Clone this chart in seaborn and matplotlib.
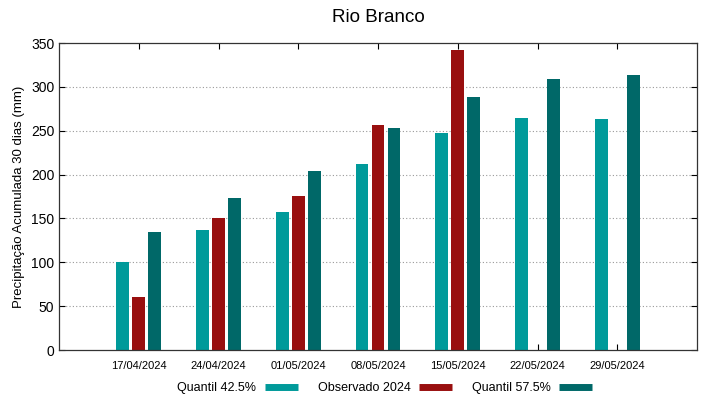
import matplotlib
matplotlib.use("Agg")
import matplotlib.pyplot as plt
import seaborn as sns
import pandas as pd
import numpy as np
from matplotlib.lines import Line2D

dates = ["17/04/2024", "24/04/2024", "01/05/2024", "08/05/2024",
         "15/05/2024", "22/05/2024", "29/05/2024"]
q425 = [100, 137, 157, 212, 247, 264, 263]
obs2024 = [60, 150, 176, 257, 342, np.nan, np.nan]
q575 = [134, 173, 204, 253, 288, 309, 314]
series_names = ["Quantil 42.5%", "Observado 2024", "Quantil 57.5%"]
colors = ["#009a9a", "#990f0f", "#006868"]

df = pd.DataFrame({
    "date": dates * 3,
    "serie": [series_names[0]] * 7 + [series_names[1]] * 7 + [series_names[2]] * 7,
    "valor": q425 + obs2024 + q575,
})

sns.set_theme(style="white")
plt.rcParams["font.family"] = ["Liberation Sans", "DejaVu Sans"]
plt.rcParams["text.color"] = "black"
plt.rcParams["axes.labelcolor"] = "black"
plt.rcParams["xtick.color"] = "black"
plt.rcParams["ytick.color"] = "black"

fig = plt.figure(figsize=(7.19, 3.99), dpi=100)
ax = fig.add_axes([0.0821, 0.1228, 0.8873, 0.7694])

sns.barplot(data=df, x="date", y="valor", hue="serie", order=dates,
            hue_order=series_names, palette=colors, width=0.6, gap=0.2,
            saturation=1, edgecolor="none", ax=ax, legend=False)

ax.set_xlim(-1, 7)
ax.set_ylim(0, 350)
ax.set_yticks(range(0, 351, 50))
ax.set_xticks(range(7))
ax.set_xticklabels(dates, fontsize=8)
ax.tick_params(axis="y", labelsize=10, direction="in", length=4, right=True, left=True, width=0.8)
ax.tick_params(axis="x", direction="in", length=4, top=True, bottom=True, pad=8, width=0.8)
for y in range(50, 301, 50):
    ax.axhline(y, color="#999999", linestyle=(0, (1, 2)), linewidth=0.8, zorder=0)
for s in ax.spines.values():
    s.set_color("#333333")
    s.set_linewidth(0.9)
ax.set_xlabel("")
ax.set_ylabel("Precipitação Acumulada 30 dias (mm)", fontsize=9.5)
ax.set_title("Rio Branco", fontsize=13.5, pad=15)

handles = [Line2D([0], [0], color=c, lw=5, solid_capstyle="butt") for c in colors]
fig.legend(handles, series_names, loc="center", bbox_to_anchor=(0.535, 0.027),
           ncol=3, frameon=False, markerfirst=False, fontsize=9,
           handlelength=2.65, handletextpad=0.65, columnspacing=1.6)

fig.savefig("out.png", dpi=100)
